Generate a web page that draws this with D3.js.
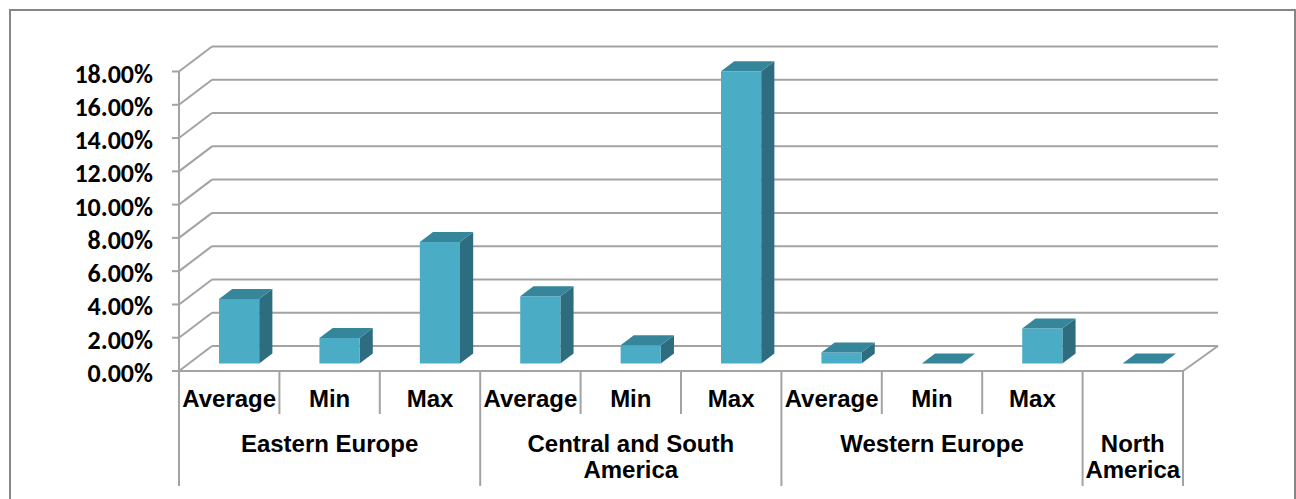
<!DOCTYPE html>
<html>
<head>
<meta charset="utf-8">
<script src="https://cdn.jsdelivr.net/npm/d3@7"></script>
<style>
  html, body { margin: 0; padding: 0; background: #fff; }
  svg { display: block; }
</style>
</head>
<body>
<svg id="chart" width="1296" height="499"></svg>
<script>
// ---- data ----
const categories = ["Average", "Min", "Max", "Average", "Min", "Max", "Average", "Min", "Max", ""];
const groupNames = ["Eastern Europe", "Central and South America", "Western Europe", "North America"];
const groupLines = [["Eastern Europe"], ["Central and South", "America"], ["Western Europe"], ["North", "America"]];
const groupSizes = [3, 3, 3, 1];
const values = [3.88, 1.54, 7.30, 4.04, 1.10, 17.56, 0.66, 0.0, 2.10, 0.0];
const yTicks = [0, 2, 4, 6, 8, 10, 12, 14, 16, 18];
const yTickLabels = ["0.00%", "2.00%", "4.00%", "6.00%", "8.00%", "10.00%", "12.00%", "14.00%", "16.00%", "18.00%"];

// ---- layout ----
const svg = d3.select("#chart");
const X0 = 179, X1 = 1183;
const DX = 33, DY = -25;          // full depth offset (back wall)
const F0 = 0.3, F1 = 0.7;         // bar depth range
const gridColor = "#A3A3A3";

const x = d3.scaleBand().domain(d3.range(categories.length)).range([X0, X1]).paddingInner(0).paddingOuter(0);
const y = d3.scaleLinear().domain([0, 18]).range([371, 71.5]);
const bw = x.bandwidth();

// outer border
svg.append("rect").attr("x", 10).attr("y", 10).attr("width", 1285).attr("height", 540)
  .attr("fill", "#fff").attr("stroke", "#868686").attr("stroke-width", 2);

const grid = svg.append("g").attr("stroke", gridColor).attr("stroke-width", 2).attr("fill", "none");
// back wall gridlines
grid.selectAll("line.back").data(yTicks).join("line").attr("class", "back")
  .attr("x1", X0 + DX).attr("x2", X1 + DX + 2)
  .attr("y1", d => y(d) + DY).attr("y2", d => y(d) + DY);
// side wall diagonals
grid.selectAll("line.side").data(yTicks).join("line").attr("class", "side")
  .attr("x1", X0).attr("x2", X0 + DX)
  .attr("y1", d => y(d)).attr("y2", d => y(d) + DY);
// floor right edge
grid.append("line").attr("x1", X1).attr("y1", y(0)).attr("x2", X1 + DX + 2).attr("y2", y(0) + DY);

// bars
const bars = svg.append("g");
const data = values.map((v, i) => ({ v, i }));
data.forEach(d => {
  const bx0 = x(d.i) + bw * 0.3, bx1 = x(d.i) + bw * 0.7;
  const yv = y(d.v), yb = y(0);
  const g = bars.append("g");
  if (d.v > 0) {
    // side face
    g.append("path").attr("fill", "#2E6D7F")
      .attr("d", d3.line()([[bx1 + F0 * DX, yv + F0 * DY], [bx1 + F1 * DX, yv + F1 * DY],
        [bx1 + F1 * DX, yb + F1 * DY], [bx1 + F0 * DX, yb + F0 * DY]]) + "Z");
    // front face
    g.append("rect").attr("fill", "#4BACC6")
      .attr("x", bx0 + F0 * DX).attr("y", yv + F0 * DY)
      .attr("width", bx1 - bx0).attr("height", yb - yv);
  }
  // top face
  g.append("path").attr("fill", "#36869B")
    .attr("d", d3.line()([[bx0 + F0 * DX, yv + F0 * DY], [bx1 + F0 * DX, yv + F0 * DY],
      [bx1 + F1 * DX, yv + F1 * DY], [bx0 + F1 * DX, yv + F1 * DY]]) + "Z");
});

// front axes
const ax = svg.append("g").attr("stroke", gridColor).attr("stroke-width", 2).attr("fill", "none");
ax.append("line").attr("x1", X0).attr("x2", X1).attr("y1", y(0)).attr("y2", y(0));
ax.append("line").attr("x1", X0).attr("x2", X0).attr("y1", y(18)).attr("y2", y(0));
ax.selectAll("line.tick").data(yTicks).join("line").attr("class", "tick")
  .attr("x1", X0 - 7).attr("x2", X0).attr("y1", d => y(d)).attr("y2", d => y(d));

// category dividers
const groupStarts = [];
let acc = 0;
groupSizes.forEach(s => { groupStarts.push(acc); acc += s; });
const groupBoundaries = new Set([...groupStarts, categories.length]);
d3.range(categories.length + 1).forEach(k => {
  const xx = k < categories.length ? x(k) : X1;
  const long = groupBoundaries.has(k);
  ax.append("line").attr("x1", xx).attr("x2", xx).attr("y1", y(0)).attr("y2", long ? 486 : 414);
});

// y tick labels
svg.append("g").selectAll("text").data(yTicks).join("text")
  .attr("x", 153).attr("y", d => y(d) + 11)
  .attr("text-anchor", "end")
  .attr("font-family", "Carlito, Calibri, Lato, sans-serif").attr("font-weight", "bold")
  .attr("font-size", 26).attr("fill", "#000")
  .text((d, i) => yTickLabels[i]);

// category labels
svg.append("g").selectAll("text").data(categories).join("text")
  .attr("x", (d, i) => x(i) + bw / 2).attr("y", 407)
  .attr("text-anchor", "middle")
  .attr("font-family", "'Liberation Sans', Arial, sans-serif").attr("font-weight", "bold")
  .attr("font-size", 24).attr("fill", "#000")
  .text(d => d);

// group labels
const gl = svg.append("g").attr("font-family", "'Liberation Sans', Arial, sans-serif")
  .attr("font-weight", "bold").attr("font-size", 24).attr("fill", "#000").attr("text-anchor", "middle");
groupNames.forEach((name, gi) => {
  const s = groupStarts[gi], e = s + groupSizes[gi];
  const cx = (x(s) + (e < categories.length ? x(e) : X1)) / 2;
  const t = gl.append("text").attr("x", cx).attr("y", 452);
  groupLines[gi].forEach((ln, li) => {
    t.append("tspan").attr("x", cx).attr("y", 452 + li * 26).text(ln);
  });
});
</script>
</body>
</html>
